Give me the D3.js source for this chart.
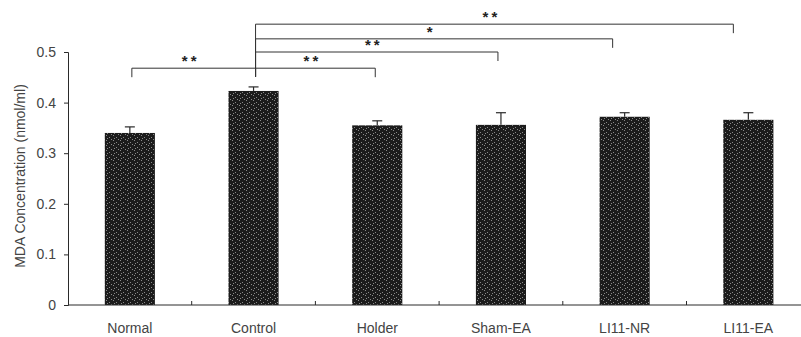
<!DOCTYPE html>
<html>
<head>
<meta charset="utf-8">
<script src="https://cdn.jsdelivr.net/npm/d3@7"></script>
<style>
  body { margin: 0; background: #fff; }
  svg { display: block; font-family: "Liberation Sans", Arial, sans-serif; }
</style>
</head>
<body>
<div id="chart"></div>
<script>
// data
var groups = ["Normal", "Control", "Holder", "Sham-EA", "LI11-NR", "LI11-EA"];
var means = [0.340, 0.423, 0.355, 0.356, 0.372, 0.366];
var errors = [0.012, 0.008, 0.009, 0.024, 0.008, 0.014];
var yTicks = [0, 0.1, 0.2, 0.3, 0.4, 0.5];

// significance brackets: pair, bracket level (y units), stars
var pairFrom = ["Normal", "Control", "Control", "Control", "Control"];
var pairTo = ["Control", "Holder", "Sham-EA", "LI11-NR", "LI11-EA"];
var pairLevel = [0.468, 0.468, 0.500, 0.526, 0.555];
var pairStars = ["**", "**", "**", "*", "**"];

var width = 801, height = 337;
var plotLeft = 68, plotBottom = 305, plotTop = 52;

var svg = d3.select("#chart").append("svg")
    .attr("width", width)
    .attr("height", height);

// speckled fill like the scanned bars
var pat = svg.append("defs").append("pattern")
    .attr("id", "speckle")
    .attr("patternUnits", "userSpaceOnUse")
    .attr("width", 7)
    .attr("height", 5);
pat.append("rect").attr("width", 7).attr("height", 5).attr("fill", "#1c1c1c");
[[1, 0], [4, 2], [6, 4], [2, 3]].forEach(function (p) {
    pat.append("rect")
        .attr("x", p[0]).attr("y", p[1])
        .attr("width", 1).attr("height", 1)
        .attr("fill", "#8a8a8a");
});

var x = d3.scaleBand()
    .domain(groups)
    .range([plotLeft, plotLeft + 6 * 123.7])
    .paddingInner(0.595)
    .paddingOuter(0.2975);

var y = d3.scaleLinear()
    .domain([0, 0.5])
    .range([plotBottom, plotTop]);

var ink = "#2a2a2a";

// bars
svg.selectAll("rect.bar")
    .data(groups)
    .enter()
    .append("rect")
    .attr("class", "bar")
    .attr("x", function (d) { return x(d); })
    .attr("width", x.bandwidth())
    .attr("y", function (d, i) { return y(means[i]); })
    .attr("height", function (d, i) { return y(0) - y(means[i]); })
    .attr("fill", "url(#speckle)");

// error bars (upper only)
var eb = svg.selectAll("g.err")
    .data(groups)
    .enter()
    .append("g")
    .attr("class", "err")
    .attr("stroke", ink)
    .attr("stroke-width", 1.2);

eb.append("line")
    .attr("x1", function (d) { return x(d) + x.bandwidth() / 2; })
    .attr("x2", function (d) { return x(d) + x.bandwidth() / 2; })
    .attr("y1", function (d, i) { return y(means[i]); })
    .attr("y2", function (d, i) { return y(means[i] + errors[i]); });

eb.append("line")
    .attr("x1", function (d) { return x(d) + x.bandwidth() / 2 - 5; })
    .attr("x2", function (d) { return x(d) + x.bandwidth() / 2 + 5; })
    .attr("y1", function (d, i) { return y(means[i] + errors[i]); })
    .attr("y2", function (d, i) { return y(means[i] + errors[i]); });

// y axis
var yAxis = svg.append("g")
    .attr("transform", "translate(" + plotLeft + ",0)")
    .call(d3.axisLeft(y).tickValues(yTicks).tickSize(4)
        .tickFormat(function (d) { return d === 0 ? "0" : d3.format(".1f")(d); }));
yAxis.select(".domain").attr("stroke", ink);
yAxis.selectAll(".tick line").attr("stroke", ink);
yAxis.selectAll(".tick text")
    .attr("x", -12)
    .attr("fill", "#444")
    .style("font-size", "14px");

// x axis
var step = x.step();
var xAxis = svg.append("g")
    .attr("transform", "translate(0," + plotBottom + ")")
    .call(d3.axisBottom(x).tickSize(0).tickPadding(18));
xAxis.select(".domain").attr("stroke", ink).attr("d", "M" + plotLeft + ",0H" + width);
xAxis.selectAll(".tick text")
    .attr("fill", "#444")
    .style("font-size", "14px");

// small inward ticks between groups
svg.selectAll("line.sep")
    .data(groups.slice(1))
    .enter()
    .append("line")
    .attr("class", "sep")
    .attr("x1", function (d) { return x(d) - step * x.paddingOuter(); })
    .attr("x2", function (d) { return x(d) - step * x.paddingOuter(); })
    .attr("y1", plotBottom)
    .attr("y2", plotBottom - 4)
    .attr("stroke", ink);

// y axis title
svg.append("text")
    .attr("transform", "translate(25,176) rotate(-90)")
    .attr("text-anchor", "middle")
    .attr("fill", "#444")
    .style("font-size", "14px")
    .text("MDA Concentration (nmol/ml)");

// significance brackets
var endShift = [2, -2, -3, -12, -15];
var drop = 9;
var legBottom = y(0.451);
var cx = function (g) { return x(g) + x.bandwidth() / 2; };

var brackets = svg.append("g")
    .attr("fill", "none")
    .attr("stroke", "#333")
    .attr("stroke-width", 1);

pairFrom.forEach(function (a, i) {
    var x1 = cx(a) + 2;
    var x2 = cx(pairTo[i]) + endShift[i];
    var yl = y(pairLevel[i]);
    var y1 = a === "Control" ? legBottom : yl + drop;
    var y2 = pairTo[i] === "Control" ? legBottom : yl + drop;
    brackets.append("path")
        .attr("d", "M" + x1 + "," + y1 + "V" + yl + "H" + x2 + "V" + y2);
    svg.append("text")
        .attr("x", (x1 + x2) / 2 - 3)
        .attr("y", yl - 2)
        .attr("text-anchor", "middle")
        .attr("fill", "#222")
        .style("font-size", "15px")
        .style("font-weight", "bold")
        .style("letter-spacing", "3px")
        .text(pairStars[i]);
});
</script>
</body>
</html>
